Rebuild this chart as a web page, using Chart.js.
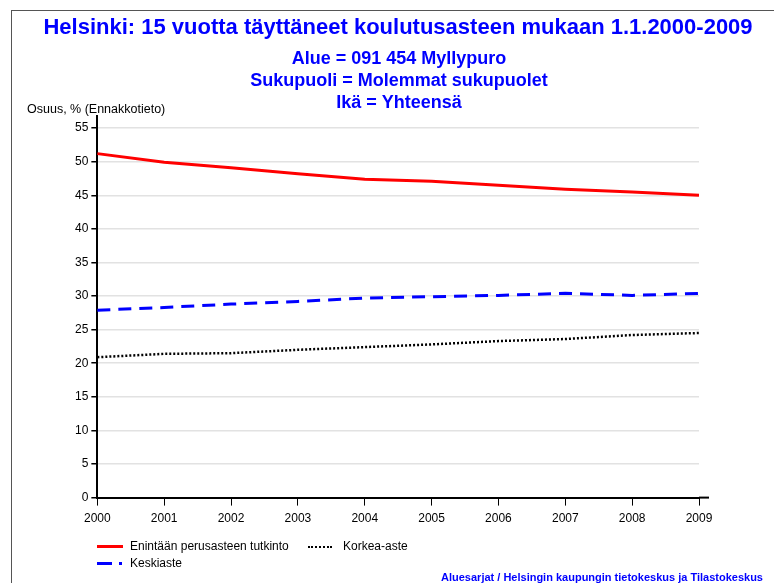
<!DOCTYPE html>
<html>
<head>
<meta charset="utf-8">
<script src="https://cdn.jsdelivr.net/npm/chart.js@4"></script>
<style>
    body { margin: 0; background: #fff; font-family: 'Liberation Sans', Arial, sans-serif; }
    #wrap { position: relative; width: 774px; height: 583px; overflow: hidden; }
    #frame { position: absolute; left: 11px; top: 10px; width: 800px; height: 600px; border: 1px solid #555; }
    canvas { position: absolute; left: 0; top: 0; }
    .lg { position: absolute; font-size: 12px; color: #000; }
    .sw { position: absolute; }
    #source { position: absolute; right: 11px; top: 571px; font-size: 11px; font-weight: bold; color: #0000ff; }
</style>
</head>
<body>
<div id="wrap">
    <div id="frame"></div>
    <canvas id="chart" width="774" height="583"></canvas>
    <div class="sw" style="left:97px;top:545px;width:26px;border-top:3px solid #ff0000;"></div>
    <div class="lg" style="left:130px;top:539px;">Enintään perusasteen tutkinto</div>
    <div class="sw" style="left:308px;top:546px;width:24px;border-top:2px dotted #000;"></div>
    <div class="lg" style="left:343px;top:539px;">Korkea-aste</div>
    <div class="sw" style="left:97px;top:562px;width:15px;border-top:3px solid #0000ff;"></div>
    <div class="sw" style="left:119px;top:562px;width:3px;border-top:3px solid #0000ff;"></div>
    <div class="lg" style="left:130px;top:556px;">Keskiaste</div>
    <div id="source">Aluesarjat / Helsingin kaupungin tietokeskus ja Tilastokeskus</div>
</div>
<script>
'use strict';

const years = ['2000', '2001', '2002', '2003', '2004', '2005', '2006', '2007', '2008', '2009'];
const perusaste = [51.2, 49.9, 49.1, 48.2, 47.4, 47.1, 46.5, 45.9, 45.5, 45.0];
const keskiaste = [27.9, 28.3, 28.8, 29.2, 29.7, 29.9, 30.1, 30.4, 30.1, 30.4];
const korkeaAste = [20.9, 21.4, 21.5, 22.0, 22.4, 22.8, 23.3, 23.6, 24.2, 24.5];
const yTicks = [0, 5, 10, 15, 20, 25, 30, 35, 40, 45, 50, 55];

const chartTitle = 'Helsinki: 15 vuotta täyttäneet koulutusasteen mukaan 1.1.2000-2009';
const chartSubtitle = ['Alue = 091 454 Myllypuro', 'Sukupuoli = Molemmat sukupuolet', 'Ikä = Yhteensä'];
const yCaption = 'Osuus, % (Ennakkotieto)';

// titles drawn by hand so Chart.js does not squeeze them to the padded width
const headerPlugin = {
    id: 'header',
    afterDraw(chart) {
        const ctx = chart.ctx;
        ctx.save();
        ctx.textBaseline = 'middle';
        ctx.textAlign = 'center';
        ctx.fillStyle = '#0000ff';
        ctx.font = 'bold 22px "Liberation Sans", Arial, sans-serif';
        ctx.fillText(chartTitle, 398, 28);
        ctx.font = 'bold 18px "Liberation Sans", Arial, sans-serif';
        chartSubtitle.forEach(function (line, i) {
            ctx.fillText(line, 399, 59 + i * 22);
        });
        ctx.textAlign = 'left';
        ctx.fillStyle = '#000';
        ctx.font = '12.5px "Liberation Sans", Arial, sans-serif';
        ctx.fillText(yCaption, 27, 110);

        // x axis line runs a little past the last year
        const area = chart.chartArea;
        ctx.strokeStyle = '#000';
        ctx.lineWidth = 2;
        ctx.beginPath();
        ctx.moveTo(area.right, area.bottom);
        ctx.lineTo(area.right + 10, area.bottom);
        ctx.stroke();
        ctx.restore();
    },
};

let ctx = document.getElementById('chart').getContext('2d');
window.myLine = new Chart(ctx, {
    type: 'line',
    data: {
        labels: years,
        datasets: [
            {
                label: 'Enintään perusasteen tutkinto',
                data: perusaste,
                borderColor: '#ff0000',
                borderWidth: 3,
            },
            {
                label: 'Keskiaste',
                data: keskiaste,
                borderColor: '#0000ff',
                borderWidth: 3,
                borderDash: [13, 8],
            },
            {
                label: 'Korkea-aste',
                data: korkeaAste,
                borderColor: '#000000',
                borderWidth: 2.5,
                borderDash: [2, 2],
            }],
    },
    options: {
        responsive: false,
        animation: false,
        elements: { point: { radius: 0 }, line: { tension: 0 } },
        layout: { padding: { left: 72, right: 75, top: 116, bottom: 51 } },
        plugins: {
            legend: { display: false },
            tooltip: { enabled: false },
            title: { display: false },
        },
        scales: {
            x: {
                offset: false,
                grid: { drawOnChartArea: false, drawTicks: true, tickLength: 8, color: '#000', lineWidth: 1 },
                border: { color: '#000', width: 2 },
                ticks: {
                    color: '#000',
                    maxRotation: 0,
                    padding: 6,
                    font: { family: '"Liberation Sans", Arial', size: 12 },
                },
            },
            y: {
                min: 0,
                max: 56.8,
                afterBuildTicks(scale) {
                    scale.ticks = yTicks.map(v => ({ value: v }));
                },
                grid: {
                    color: '#e2e2e2',
                    lineWidth: 1.5,
                    tickColor: '#000',
                    tickLength: 6,
                },
                border: { color: '#000', width: 2 },
                ticks: {
                    color: '#000',
                    padding: 3,
                    font: { family: '"Liberation Sans", Arial', size: 12 },
                },
            },
        },
    },
    plugins: [headerPlugin],
});
</script>
</body>
</html>
